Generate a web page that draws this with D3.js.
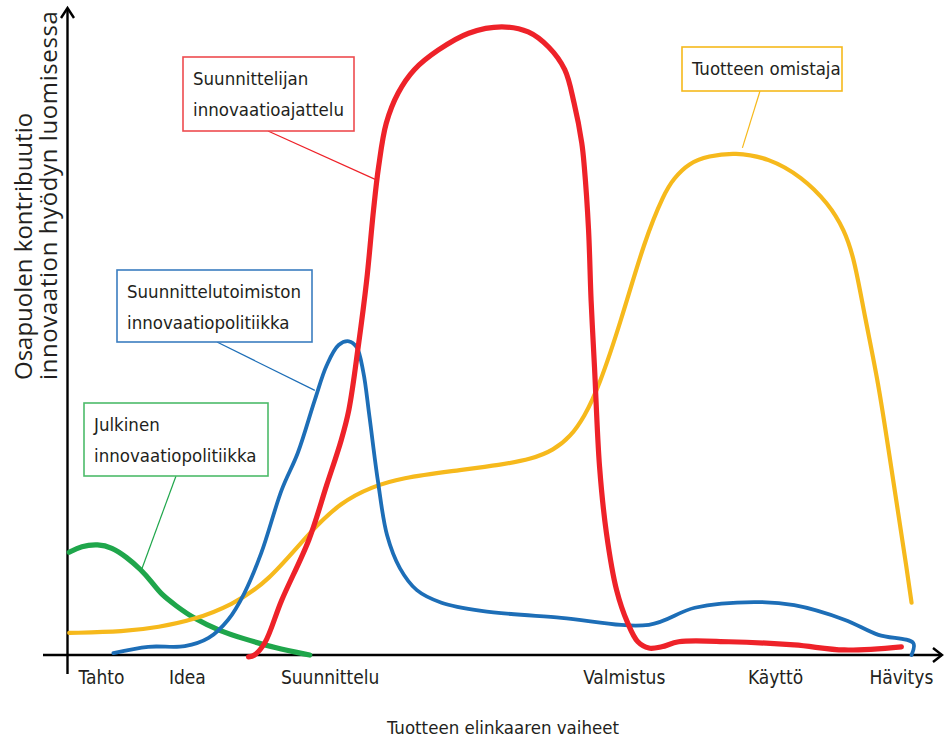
<!DOCTYPE html>
<html>
<head>
<meta charset="utf-8">
<script src="https://cdn.jsdelivr.net/npm/d3@7"></script>
<style>
  html, body { margin: 0; padding: 0; background: #fff; }
  svg { display: block; }
  .lbl { font-family: "Liberation Sans Narrow", "DejaVu Sans Condensed", sans-serif; fill: #231f20; }
  .ytitle { font-family: "Open Sans", "Noto Sans", sans-serif; fill: #231f20; }
</style>
</head>
<body>
<svg id="chart" width="945" height="739"></svg>
<script>
// Lifecycle stages along the horizontal axis (position on a 0–100 scale)
const stageNames = ["Tahto", "Idea", "Suunnittelu", "Valmistus", "Käyttö", "Hävitys"];
const stagePos   = [4.0, 14.1, 30.9, 65.5, 83.3, 98.1];

// Contribution of each party over the lifecycle: [stage position, contribution]
const julkinen = [
  [0.2, 16.3], [1.6, 17.3], [3.6, 17.6], [5.2, 17.1], [6.9, 15.6], [8.7, 13.5],
  [9.9, 11.6], [11.1, 9.5], [12.8, 7.8], [14.6, 6.0], [18.1, 3.7], [20.5, 2.7],
  [24.4, 1.1], [28.5, 0.0]
];
const omistaja = [
  [0.2, 3.5], [6.7, 3.7], [10.7, 4.4], [14.9, 5.6], [19.3, 7.9], [23.6, 11.6],
  [28.4, 19.4], [32.2, 24.3], [35.8, 26.7], [39.3, 28.1], [45.2, 29.2], [51.1, 30.2],
  [54.6, 31.1], [57.2, 32.5], [59.2, 34.7], [60.8, 37.8], [62.5, 42.5], [65.1, 52.9],
  [67.9, 65.9], [70.2, 73.3], [71.3, 75.6], [73.1, 78.1], [75.4, 79.2], [78.5, 79.8],
  [82.5, 78.9], [86.4, 75.9], [89.5, 71.7], [91.4, 67.5], [92.6, 62.7], [93.8, 53.7],
  [95.4, 43.2], [96.6, 32.5], [97.8, 21.9], [98.7, 14.0], [99.3, 8.3]
];
const toimisto = [
  [5.4, 0.3], [9.5, 1.3], [13.8, 1.4], [16.6, 2.7], [18.9, 5.6], [20.8, 9.8],
  [22.8, 16.2], [25.2, 26.2], [27.1, 32.1], [29.1, 40.5], [30.5, 46.0], [31.9, 49.2],
  [33.1, 49.8], [34.0, 48.9], [34.8, 44.9], [35.5, 38.1], [36.5, 27.8], [37.6, 19.0],
  [39.1, 13.8], [41.1, 10.3], [44.0, 8.3], [48.7, 7.0], [58.1, 5.9], [68.4, 4.8],
  [73.8, 7.5], [80.8, 8.4], [85.5, 7.9], [91.4, 5.6], [95.4, 3.2], [99.5, 1.9],
  [99.3, 0.0]
];
const suunnittelija = [
  [21.3, -0.3], [22.0, 0.0], [23.2, 1.9], [25.2, 8.7], [28.4, 18.3], [30.5, 27.0],
  [32.2, 34.1], [33.1, 38.9], [34.2, 48.9], [35.2, 59.5], [36.0, 70.6], [36.6, 77.5],
  [37.5, 84.4], [38.9, 89.2], [40.8, 92.9], [43.6, 96.0], [47.2, 98.7], [51.1, 99.7],
  [54.2, 98.9], [56.6, 96.5], [58.5, 92.9], [59.6, 87.6], [60.5, 81.3], [60.8, 77.5],
  [61.3, 67.5], [61.6, 56.3], [62.0, 45.7], [62.6, 29.8], [63.4, 19.4], [64.6, 10.3],
  [65.9, 5.1], [67.1, 2.1], [68.4, 1.1], [69.9, 1.3], [71.9, 2.1], [77.8, 2.1],
  [85.5, 1.6], [91.4, 0.8], [98.1, 1.3]
];

const seriesNames  = ["Julkinen innovaatiopolitiikka", "Tuotteen omistaja",
                      "Suunnittelutoimiston innovaatiopolitiikka", "Suunnittelijan innovaatioajattelu"];
const seriesValues = [julkinen, omistaja, toimisto, suunnittelija];

const svg = d3.select("#chart");

const x = d3.scaleLinear().domain([0, 100]).range([67.5, 917.5]);
const y = d3.scaleLinear().domain([0, 100]).range([655, 25]);

// smooth gentle curves with a B-spline; the sharp ones go through every point
const styles = [
  { line: "#1fa64b", box: "#4dbb6a", width: 5.2, curve: d3.curveBasis },
  { line: "#f6b91c", box: "#f6b91c", width: 4.2, curve: d3.curveBasis },
  { line: "#1d6eb7", box: "#3b7dc0", width: 3.8, curve: d3.curveCatmullRom.alpha(0.5) },
  { line: "#ee2229", box: "#ee4b4f", width: 5.2, curve: d3.curveCatmullRom.alpha(0.5) }
];

// ---- axes ----
const axisG = svg.append("g").attr("stroke", "#000").attr("fill", "none")
  .attr("stroke-width", 2.4);
// vertical axis with arrow
axisG.append("line").attr("x1", x(0)).attr("x2", x(0)).attr("y1", 8).attr("y2", 674);
axisG.append("path").attr("d", `M${x(0) - 6.5},18 L${x(0)},8 L${x(0) + 6.5},18`);
// horizontal axis with arrow
axisG.append("line").attr("x1", 43).attr("x2", 942).attr("y1", y(0)).attr("y2", y(0));
axisG.append("path").attr("d", `M933,${y(0) - 7} L942,${y(0)} L933,${y(0) + 7}`);

// stage labels
svg.append("g").selectAll("text").data(stageNames).join("text")
  .attr("class", "lbl")
  .attr("x", (d, i) => x(stagePos[i]))
  .attr("y", 684)
  .attr("text-anchor", "middle")
  .attr("font-size", 19)
  .text(d => d);

// axis titles
svg.append("text").attr("class", "lbl")
  .attr("x", 503).attr("y", 734).attr("text-anchor", "middle")
  .attr("font-size", 18.5).text("Tuotteen elinkaaren vaiheet");

const yt = svg.append("g").attr("transform", "translate(0,380) rotate(-90)");
yt.append("text").attr("class", "ytitle").attr("x", 0).attr("y", 32)
  .attr("font-size", 24).text("Osapuolen kontribuutio");
yt.append("text").attr("class", "ytitle").attr("x", 0).attr("y", 57)
  .attr("font-size", 24).attr("letter-spacing", 0.6).text("innovaation hyödyn luomisessa");

// ---- curves ----
svg.append("g").selectAll("path").data(seriesValues).join("path")
  .attr("d", (d, i) => d3.line()
    .x(p => x(p[0])).y(p => y(p[1]))
    .curve(styles[i].curve)(d))
  .attr("fill", "none")
  .attr("stroke", (d, i) => styles[i].line)
  .attr("stroke-width", (d, i) => styles[i].width)
  .attr("stroke-linecap", "round")
  .attr("stroke-linejoin", "round");

// ---- callout boxes: box rectangle (px), text lines, leader target on curve (data units) ----
const callouts = [
  { s: 0, box: [84, 403, 184, 73], lines: ["Julkinen", "innovaatiopolitiikka"], from: [176, 476], to: [8.7, 13.5] },
  { s: 1, box: [682, 47, 160, 44], lines: ["Tuotteen omistaja"], from: [760, 91], to: [79.4, 80.5] },
  { s: 2, box: [117, 270, 195, 72], lines: ["Suunnittelutoimiston", "innovaatiopolitiikka"], from: [217, 342], to: [29.1, 42.0] },
  { s: 3, box: [183, 57, 171, 74], lines: ["Suunnittelijan", "innovaatioajattelu"], from: [268, 131], to: [36.2, 75.5] }
];

const cg = svg.append("g").selectAll("g").data(callouts).join("g");
cg.append("line")
  .attr("x1", d => d.from[0]).attr("y1", d => d.from[1])
  .attr("x2", d => x(d.to[0])).attr("y2", d => y(d.to[1]))
  .attr("stroke", d => styles[d.s].line).attr("stroke-width", 1.2);
cg.append("rect")
  .attr("x", d => d.box[0]).attr("y", d => d.box[1])
  .attr("width", d => d.box[2]).attr("height", d => d.box[3])
  .attr("fill", "#fff").attr("stroke", d => styles[d.s].box).attr("stroke-width", 1.6);
cg.each(function(d) {
  const g = d3.select(this);
  const n = d.lines.length;
  d.lines.forEach((t, k) => {
    g.append("text").attr("class", "lbl")
      .attr("x", d.box[0] + 10)
      .attr("y", n === 1 ? d.box[1] + 28 : d.box[1] + 28 + k * 31)
      .attr("font-size", 18.5)
      .text(t);
  });
});
</script>
</body>
</html>
